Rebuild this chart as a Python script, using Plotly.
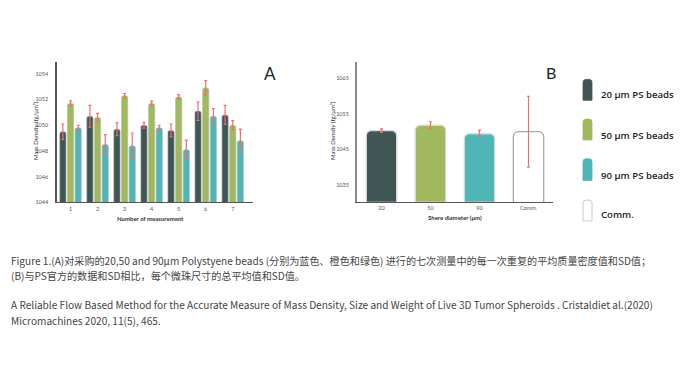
import plotly.graph_objects as go

# ---------------- data ----------------
measurements = [1, 2, 3, 4, 5, 6, 7]
dens_20 = [1049.5, 1050.7, 1049.7, 1050.0, 1049.6, 1051.1, 1050.8]
sd_20 = [0.60, 0.85, 0.50, 0.22, 0.50, 0.73, 0.74]
dens_50 = [1051.7, 1050.6, 1052.3, 1051.7, 1052.2, 1052.9, 1050.0]
sd_50 = [0.20, 0.33, 0.17, 0.18, 0.18, 0.58, 0.36]
dens_90 = [1049.8, 1048.5, 1048.4, 1049.8, 1048.1, 1050.7, 1048.8]
sd_90 = [0.20, 0.78, 1.00, 0.20, 0.74, 0.60, 0.90]

sizes_b = ["20", "50", "90", "Comm."]
mean_b = [1050.3, 1051.8, 1049.4, 1050.0]
sd_b = [0.5, 1.0, 1.0, 10.0]

legend_labels = ["20 μm PS beads", "50 μm PS beads", "90 μm PS beads", "Comm."]

caption_lines = [
    "Figure 1.(A)对采购的20,50 and 90μm Polystyene beads (分别为蓝色、橙色和绿色) 进行的七次测量中的每一次重复的平均质量密度值和SD值；",
    "(B)与PS官方的数据和SD相比，每个微珠尺寸的总平均值和SD值。",
    "A Reliable Flow Based Method for the Accurate Measure of Mass Density, Size and Weight of Live 3D Tumor Spheroids . Cristaldiet al.(2020)",
    "Micromachines 2020, 11(5), 465.",
]

# ---------------- style ----------------
PAGE_W, PAGE_H, BODY_M = 691, 388, 8
W, H = PAGE_W - 2 * BODY_M, PAGE_H - 2 * BODY_M
C_DARK = "#3f5655"
C_GREEN = "#a2b85c"
C_TEAL = "#4fb5b6"
C_WHITE = "#ffffff"
C_ERR = "#ef6f6c"
TICKFONT = dict(family="Lato, Inter, sans-serif", size=5.5, color="#555")


def px(x):
    return (x - BODY_M) / W


def py(y):
    return 1 - (y - BODY_M) / H


fig = go.Figure()

series = [(dens_20, sd_20, C_DARK, -0.40), (dens_50, sd_50, C_GREEN, -0.117), (dens_90, sd_90, C_TEAL, 0.166)]
for vals, sds, col, off in series:
    fig.add_trace(go.Bar(
        x=measurements, y=vals, base=0, width=0.235, offset=off,
        marker=dict(color=col, line=dict(color="rgba(190,190,190,0.6)", width=1), cornerradius=2),
        error_y=dict(type="data", array=sds, color=C_ERR, thickness=1.2, width=1.5),
        xaxis="x", yaxis="y", showlegend=False,
    ))

fig.add_trace(go.Bar(
    x=sizes_b, y=mean_b, width=0.62,
    marker=dict(color=[C_DARK, C_GREEN, C_TEAL, C_WHITE],
                line=dict(color=["#d8d8d8", "#d8d8d8", "#d8d8d8", "#a8a8a8"], width=1.3),
                cornerradius=5),
    error_y=dict(type="data", array=sd_b, color=C_ERR, thickness=1.2, width=1.5),
    xaxis="x2", yaxis="y2", showlegend=False,
))

axis_common = dict(showgrid=False, zeroline=False, showline=True, tickfont=TICKFONT)

fig.update_layout(
    width=W, height=H, margin=dict(l=0, r=0, t=0, b=0),
    paper_bgcolor="white", plot_bgcolor="white",
    barmode="overlay", showlegend=False,
    xaxis=dict(domain=[px(57), px(253)], range=[0.5, 7.75], anchor="y",
               tickvals=measurements, ticks="outside", ticklen=1, tickcolor="rgba(0,0,0,0)",
               linecolor="#555", linewidth=1.3, **axis_common),
    yaxis=dict(domain=[py(204), py(62.7)], range=[1044, 1054.9], anchor="x",
               tickvals=[1044, 1046, 1048, 1050, 1052, 1054], ticks="outside", ticklen=6,
               tickcolor="rgba(0,0,0,0)", linecolor="#555", linewidth=1.5, **axis_common),
    xaxis2=dict(domain=[px(357), px(553)], range=[-0.5, 3.5], anchor="y2",
                ticks="outside", ticklen=1, tickcolor="rgba(0,0,0,0)",
                linecolor="#555", linewidth=1.3, **axis_common),
    yaxis2=dict(domain=[py(203.3), py(62.7)], range=[1030.2, 1069.6], anchor="x2",
                tickvals=[1035, 1045, 1055, 1065], ticks="outside", ticklen=5,
                tickcolor="rgba(0,0,0,0)", linecolor="#8a8a8a", linewidth=2, **axis_common),
)

ann = []
titlefont = dict(family="Lato, Inter, sans-serif", size=6, color="#333")
ann.append(dict(text="Mass Density (fg/μm³)", x=px(36), y=py(132), textangle=-90,
                font=titlefont))
ann.append(dict(text="<b>Number of measurement</b>", x=px(150), y=py(220), font=titlefont))
ann.append(dict(text="Mass Density (fg/μm³)", x=px(333), y=py(132), textangle=-90,
                font=titlefont))
ann.append(dict(text="<b>Shere diameter (μm)</b>", x=px(455), y=py(219.5), font=titlefont))
ann.append(dict(text="A", x=px(270), y=py(74), font=dict(family="Lato, sans-serif", size=17, color="#222")))
ann.append(dict(text="B", x=px(550.5), y=py(73), font=dict(family="Lato, sans-serif", size=16, color="#222")))

# legend (custom)
leg_cols = [C_DARK, C_GREEN, C_TEAL, C_WHITE]
leg_y = [(80, 101), (120, 141), (160, 182), (201.7, 222.7)]
leg_text_y = [95, 136.5, 176.5, 216]
shapes = []
for col, (t, b), ty, lab in zip(leg_cols, leg_y, leg_text_y, legend_labels):
    x0, x1, r = 583, 592, 3
    path = (f"M {px(x0)} {py(b)} L {px(x0)} {py(t + r)} Q {px(x0)} {py(t)} {px(x0 + r)} {py(t)} "
            f"L {px(x1 - r)} {py(t)} Q {px(x1)} {py(t)} {px(x1)} {py(t + r)} L {px(x1)} {py(b)} Z")
    shapes.append(dict(type="path", path=path, xref="paper", yref="paper",
                       fillcolor=col, line=dict(color="#bbbbbb" if col == C_WHITE else col, width=0.8)))
    ann.append(dict(text=lab, x=px(599), y=py(ty), xanchor="left",
                    font=dict(family="Open Sans, sans-serif", size=9.6, color="#222", weight=600)))

cap_y = [263, 278, 307, 323]
for line, yy in zip(caption_lines, cap_y):
    ann.append(dict(text=line, x=px(8.5), y=py(yy), xanchor="left",
                    font=dict(family="Noto Sans CJK SC, sans-serif", size=10.1, color="#444")))

for a in ann:
    a.setdefault("xref", "paper")
    a.setdefault("yref", "paper")
    a.setdefault("showarrow", False)
    a.setdefault("xanchor", "center")
    a.setdefault("yanchor", "middle")

fig.update_layout(annotations=ann, shapes=shapes)
fig.write_html("out.html")
